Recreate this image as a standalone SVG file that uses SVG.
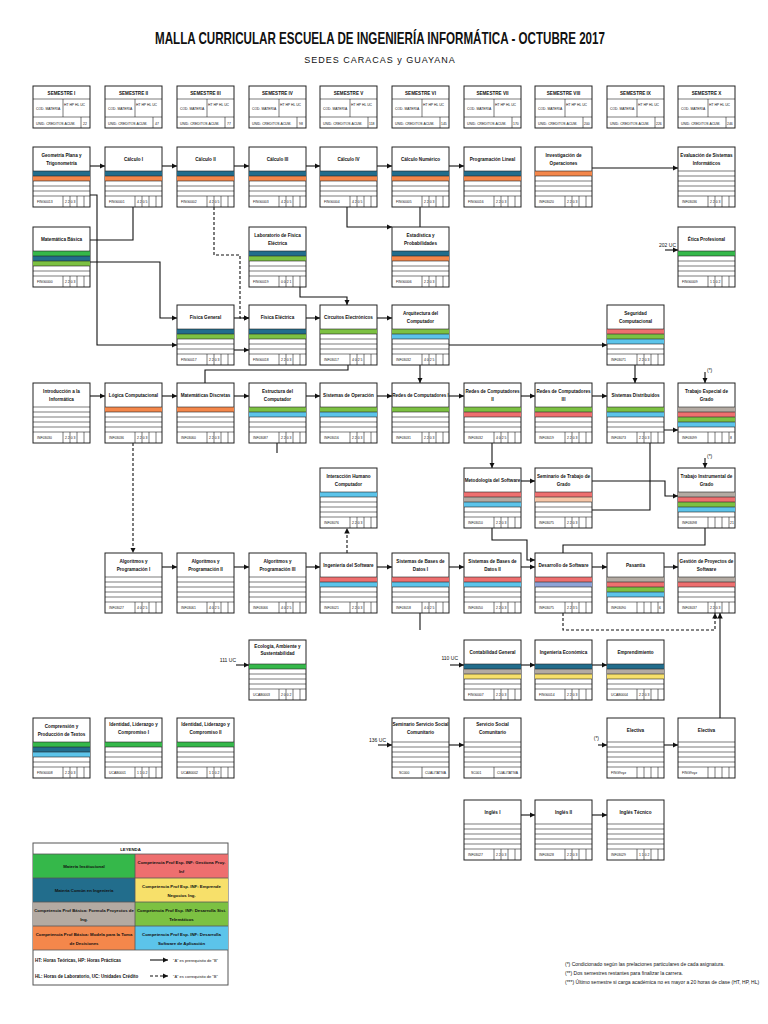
<svg xmlns="http://www.w3.org/2000/svg" width="768" height="1024" viewBox="0 0 768 1024">
<defs>
<style>
text{font-family:"Liberation Sans",Arial,sans-serif;fill:#111}
.b{fill:#fff;stroke:#222;stroke-width:1}
.l{stroke:#222;stroke-width:0.6;fill:none}
.t{font-size:4.6px;font-weight:bold;text-anchor:middle}
.s{font-size:3.4px}
.c{fill:none;stroke:#111;stroke-width:1.1}
.d{fill:none;stroke:#111;stroke-width:1.1;stroke-dasharray:3 2}
.bl{fill:#226d8c}.or{fill:#f4874b}.gr{fill:#7cc142}.ig{fill:#35b84a}.rd{fill:#ee6f6f}.ye{fill:#f7e06a}.gy{fill:#b3aaa2}.lb{fill:#5cc4ea}.wh{fill:#fff}
.lg{font-size:4.3px;font-weight:bold;text-anchor:middle}
</style>
<marker id="a" viewBox="0 0 6 6" refX="6" refY="3" markerWidth="5" markerHeight="5" orient="auto"><path d="M0,0L6,3L0,6z" fill="#111"/></marker>
</defs>
<rect width="768" height="1024" fill="#fff"/>
<text x="380" y="44" font-size="16.5" font-weight="bold" text-anchor="middle" textLength="450" lengthAdjust="spacingAndGlyphs">MALLA CURRICULAR  ESCUELA DE INGENIERÍA INFORMÁTICA - OCTUBRE 2017</text>
<text x="380" y="63" font-size="9" text-anchor="middle" letter-spacing="1">SEDES CARACAS y GUAYANA</text>

<g id="semesters" class="sem">
<g id="sem1" transform="translate(33,86)"><rect class="b" width="57" height="42"/><line class="l" x1="0" y1="13" x2="57" y2="13"/><line class="l" x1="0" y1="31" x2="57" y2="31"/><line class="l" x1="30" y1="13" x2="30" y2="31"/><line class="l" x1="48" y1="31" x2="48" y2="42"/><text class="t" x="28.5" y="9">SEMESTRE I</text><text class="s" x="3" y="24">COD. MATERIA</text><text class="s" x="31" y="20">HT HP HL UC</text><text class="s" x="3" y="38.5">UNID. CREDITOS ACUM.</text><text class="s" x="50" y="38.5">22</text></g>
<g id="sem2" transform="translate(105,86)"><rect class="b" width="57" height="42"/><line class="l" x1="0" y1="13" x2="57" y2="13"/><line class="l" x1="0" y1="31" x2="57" y2="31"/><line class="l" x1="30" y1="13" x2="30" y2="31"/><line class="l" x1="48" y1="31" x2="48" y2="42"/><text class="t" x="28.5" y="9">SEMESTRE II</text><text class="s" x="3" y="24">COD. MATERIA</text><text class="s" x="31" y="20">HT HP HL UC</text><text class="s" x="3" y="38.5">UNID. CREDITOS ACUM.</text><text class="s" x="50" y="38.5">47</text></g>
<g id="sem3" transform="translate(177,86)"><rect class="b" width="57" height="42"/><line class="l" x1="0" y1="13" x2="57" y2="13"/><line class="l" x1="0" y1="31" x2="57" y2="31"/><line class="l" x1="30" y1="13" x2="30" y2="31"/><line class="l" x1="48" y1="31" x2="48" y2="42"/><text class="t" x="28.5" y="9">SEMESTRE III</text><text class="s" x="3" y="24">COD. MATERIA</text><text class="s" x="31" y="20">HT HP HL UC</text><text class="s" x="3" y="38.5">UNID. CREDITOS ACUM.</text><text class="s" x="50" y="38.5">77</text></g>
<g id="sem4" transform="translate(249,86)"><rect class="b" width="57" height="42"/><line class="l" x1="0" y1="13" x2="57" y2="13"/><line class="l" x1="0" y1="31" x2="57" y2="31"/><line class="l" x1="30" y1="13" x2="30" y2="31"/><line class="l" x1="48" y1="31" x2="48" y2="42"/><text class="t" x="28.5" y="9">SEMESTRE IV</text><text class="s" x="3" y="24">COD. MATERIA</text><text class="s" x="31" y="20">HT HP HL UC</text><text class="s" x="3" y="38.5">UNID. CREDITOS ACUM.</text><text class="s" x="50" y="38.5">98</text></g>
<g id="sem5" transform="translate(320,86)"><rect class="b" width="57" height="42"/><line class="l" x1="0" y1="13" x2="57" y2="13"/><line class="l" x1="0" y1="31" x2="57" y2="31"/><line class="l" x1="30" y1="13" x2="30" y2="31"/><line class="l" x1="48" y1="31" x2="48" y2="42"/><text class="t" x="28.5" y="9">SEMESTRE V</text><text class="s" x="3" y="24">COD. MATERIA</text><text class="s" x="31" y="20">HT HP HL UC</text><text class="s" x="3" y="38.5">UNID. CREDITOS ACUM.</text><text class="s" x="49" y="38.5">118</text></g>
<g id="sem6" transform="translate(392,86)"><rect class="b" width="57" height="42"/><line class="l" x1="0" y1="13" x2="57" y2="13"/><line class="l" x1="0" y1="31" x2="57" y2="31"/><line class="l" x1="30" y1="13" x2="30" y2="31"/><line class="l" x1="48" y1="31" x2="48" y2="42"/><text class="t" x="28.5" y="9">SEMESTRE VI</text><text class="s" x="3" y="24">COD. MATERIA</text><text class="s" x="31" y="20">HT HP HL UC</text><text class="s" x="3" y="38.5">UNID. CREDITOS ACUM.</text><text class="s" x="49" y="38.5">145</text></g>
<g id="sem7" transform="translate(464,86)"><rect class="b" width="57" height="42"/><line class="l" x1="0" y1="13" x2="57" y2="13"/><line class="l" x1="0" y1="31" x2="57" y2="31"/><line class="l" x1="30" y1="13" x2="30" y2="31"/><line class="l" x1="48" y1="31" x2="48" y2="42"/><text class="t" x="28.5" y="9">SEMESTRE VII</text><text class="s" x="3" y="24">COD. MATERIA</text><text class="s" x="31" y="20">HT HP HL UC</text><text class="s" x="3" y="38.5">UNID. CREDITOS ACUM.</text><text class="s" x="49" y="38.5">170</text></g>
<g id="sem8" transform="translate(535,86)"><rect class="b" width="57" height="42"/><line class="l" x1="0" y1="13" x2="57" y2="13"/><line class="l" x1="0" y1="31" x2="57" y2="31"/><line class="l" x1="30" y1="13" x2="30" y2="31"/><line class="l" x1="48" y1="31" x2="48" y2="42"/><text class="t" x="28.5" y="9">SEMESTRE VIII</text><text class="s" x="3" y="24">COD. MATERIA</text><text class="s" x="31" y="20">HT HP HL UC</text><text class="s" x="3" y="38.5">UNID. CREDITOS ACUM.</text><text class="s" x="49" y="38.5">200</text></g>
<g id="sem9" transform="translate(607,86)"><rect class="b" width="57" height="42"/><line class="l" x1="0" y1="13" x2="57" y2="13"/><line class="l" x1="0" y1="31" x2="57" y2="31"/><line class="l" x1="30" y1="13" x2="30" y2="31"/><line class="l" x1="48" y1="31" x2="48" y2="42"/><text class="t" x="28.5" y="9">SEMESTRE IX</text><text class="s" x="3" y="24">COD. MATERIA</text><text class="s" x="31" y="20">HT HP HL UC</text><text class="s" x="3" y="38.5">UNID. CREDITOS ACUM.</text><text class="s" x="49" y="38.5">226</text></g>
<g id="sem10" transform="translate(678,86)"><rect class="b" width="57" height="42"/><line class="l" x1="0" y1="13" x2="57" y2="13"/><line class="l" x1="0" y1="31" x2="57" y2="31"/><line class="l" x1="30" y1="13" x2="30" y2="31"/><line class="l" x1="48" y1="31" x2="48" y2="42"/><text class="t" x="28.5" y="9">SEMESTRE X</text><text class="s" x="3" y="24">COD. MATERIA</text><text class="s" x="31" y="20">HT HP HL UC</text><text class="s" x="3" y="38.5">UNID. CREDITOS ACUM.</text><text class="s" x="49" y="38.5">246</text></g>
</g>

<g id="connectors">
<path class="c" d="M90,166H105" marker-end="url(#a)"/>
<path class="c" d="M162,166H177" marker-end="url(#a)"/>
<path class="c" d="M234,166H249" marker-end="url(#a)"/>
<path class="c" d="M306,166H320" marker-end="url(#a)"/>
<path class="c" d="M377,166H392" marker-end="url(#a)"/>
<path class="c" d="M449,166H464" marker-end="url(#a)"/>
<path class="c" d="M592,168H678" marker-end="url(#a)"/>
<path class="c" d="M90,240H133V207"/>
<path class="c" d="M90,195H97V345H177" marker-end="url(#a)"/>
<path class="c" d="M90,262H160V318H177" marker-end="url(#a)"/>
<path class="d" d="M214,207V255H240V318H249" marker-end="url(#a)"/>
<path class="c" d="M234,318H249" marker-end="url(#a)"/>
<path class="c" d="M234,350H249" marker-end="url(#a)"/>
<path class="c" d="M306,318H320" marker-end="url(#a)"/>
<path class="c" d="M300,287V297H347V305" marker-end="url(#a)"/>
<path class="c" d="M377,318H392" marker-end="url(#a)"/>
<path class="c" d="M347,207V227H392" marker-end="url(#a)"/>
<path class="c" d="M420,207V227"/>
<path class="c" d="M420,362V383" marker-end="url(#a)"/>
<path class="c" d="M348,362V370H205V383"/>
<path class="c" d="M449,345H607" marker-end="url(#a)"/>
<path class="c" d="M90,396H105" marker-end="url(#a)"/>
<path class="c" d="M162,396H177" marker-end="url(#a)"/>
<path class="c" d="M234,396H249" marker-end="url(#a)"/>
<path class="c" d="M306,396H320" marker-end="url(#a)"/>
<path class="c" d="M377,396H392" marker-end="url(#a)"/>
<path class="c" d="M449,396H464" marker-end="url(#a)"/>
<path class="c" d="M521,396H535" marker-end="url(#a)"/>
<path class="c" d="M592,396H607" marker-end="url(#a)"/>
<path class="c" d="M635,365V383" marker-end="url(#a)"/>
<path class="c" d="M705,372V383" marker-end="url(#a)"/>
<path class="c" d="M705,458V468" marker-end="url(#a)"/>
<path class="d" d="M133,443V553" marker-end="url(#a)"/>
<path class="d" d="M347,553V528" marker-end="url(#a)"/>
<path class="c" d="M277,443V453"/>
<path class="c" d="M492,443V468" marker-end="url(#a)"/>
<path class="c" d="M521,481H535" marker-end="url(#a)"/>
<path class="c" d="M592,510H650V430H678" marker-end="url(#a)"/>
<path class="c" d="M592,481H665V496H678" marker-end="url(#a)"/>
<path class="c" d="M162,567H177" marker-end="url(#a)"/>
<path class="c" d="M234,567H249" marker-end="url(#a)"/>
<path class="c" d="M306,567H320" marker-end="url(#a)"/>
<path class="c" d="M377,567H392" marker-end="url(#a)"/>
<path class="c" d="M449,567H464" marker-end="url(#a)"/>
<path class="c" d="M521,567H535" marker-end="url(#a)"/>
<path class="c" d="M592,567H607" marker-end="url(#a)"/>
<path class="c" d="M664,567H678" marker-end="url(#a)"/>
<path class="c" d="M563,553V545H705V528"/>
<path class="c" d="M492,528V540H527V560H535" marker-end="url(#a)"/>
<path class="d" d="M563,613V630H715V613" marker-end="url(#a)"/>
<path class="c" d="M720,718V613" marker-end="url(#a)"/>
<path class="c" d="M420,613V630"/>
<path class="c" d="M236,665H249" marker-end="url(#a)"/>
<path class="c" d="M450,665H464" marker-end="url(#a)"/>
<path class="c" d="M521,665H535" marker-end="url(#a)"/>
<path class="c" d="M592,665H607" marker-end="url(#a)"/>
<path class="c" d="M378,745H392" marker-end="url(#a)"/>
<path class="c" d="M449,745H464" marker-end="url(#a)"/>
<path class="c" d="M598,745H607" marker-end="url(#a)"/>
<path class="c" d="M664,745H678" marker-end="url(#a)"/>
<path class="c" d="M521,815H535" marker-end="url(#a)"/>
<path class="c" d="M592,815H607" marker-end="url(#a)"/>
<path class="c" d="M665,250H678" marker-end="url(#a)"/>
</g>
<g id="labels">
<text x="236" y="662" font-size="5" text-anchor="end">111 UC</text>
<text x="458" y="660" font-size="5" text-anchor="end">110 UC</text>
<text x="386" y="742" font-size="5" text-anchor="end">136 UC</text>
<text x="599" y="740" font-size="5" text-anchor="end">(*)</text>
<text x="676" y="247" font-size="5" text-anchor="end">202 UC</text>
<text x="707" y="372" font-size="5">(*)</text>
<text x="707" y="458" font-size="5">(*)</text>
</g>

<g id="nodes">
<g id="n-geom" transform="translate(33,147)"><rect class="b" width="57" height="60"/><text class="t" x="28.5" y="10">Geometría Plana y</text><text class="t" x="28.5" y="18">Trigonometría</text><rect class="bl" y="24" width="57" height="5"/><rect class="or" y="29" width="57" height="5"/><path class="l" d="M0,24H57M0,29H57M0,34H57M0,39H57M0,44H57M0,49H57M30,49V60M37,49V60M44,49V60M51,49V60"/><text class="s" x="4" y="56">FING0013</text><text class="s" x="32" y="56">2  2  0  3</text></g>
<g id="n-c1" transform="translate(105,147)"><rect class="b" width="57" height="60"/><text class="t" x="28.5" y="14">Cálculo I</text><rect class="bl" y="24" width="57" height="5"/><rect class="or" y="29" width="57" height="5"/><path class="l" d="M0,24H57M0,29H57M0,34H57M0,39H57M0,44H57M0,49H57M30,49V60M37,49V60M44,49V60M51,49V60"/><text class="s" x="4" y="56">FING0001</text><text class="s" x="32" y="56">4  2  0  5</text></g>
<g id="n-c2" transform="translate(177,147)"><rect class="b" width="57" height="60"/><text class="t" x="28.5" y="14">Cálculo II</text><rect class="bl" y="24" width="57" height="5"/><rect class="or" y="29" width="57" height="5"/><path class="l" d="M0,24H57M0,29H57M0,34H57M0,39H57M0,44H57M0,49H57M30,49V60M37,49V60M44,49V60M51,49V60"/><text class="s" x="4" y="56">FING0002</text><text class="s" x="32" y="56">4  2  0  5</text></g>
<g id="n-c3" transform="translate(249,147)"><rect class="b" width="57" height="60"/><text class="t" x="28.5" y="14">Cálculo III</text><rect class="bl" y="24" width="57" height="5"/><rect class="or" y="29" width="57" height="5"/><path class="l" d="M0,24H57M0,29H57M0,34H57M0,39H57M0,44H57M0,49H57M30,49V60M37,49V60M44,49V60M51,49V60"/><text class="s" x="4" y="56">FING0003</text><text class="s" x="32" y="56">4  2  0  5</text></g>
<g id="n-c4" transform="translate(320,147)"><rect class="b" width="57" height="60"/><text class="t" x="28.5" y="14">Cálculo IV</text><rect class="bl" y="24" width="57" height="5"/><rect class="or" y="29" width="57" height="5"/><path class="l" d="M0,24H57M0,29H57M0,34H57M0,39H57M0,44H57M0,49H57M30,49V60M37,49V60M44,49V60M51,49V60"/><text class="s" x="4" y="56">FING0004</text><text class="s" x="32" y="56">4  2  0  5</text></g>
<g id="n-cn" transform="translate(392,147)"><rect class="b" width="57" height="60"/><text class="t" x="28.5" y="14">Cálculo Numérico</text><rect class="bl" y="24" width="57" height="5"/><rect class="or" y="29" width="57" height="5"/><path class="l" d="M0,24H57M0,29H57M0,34H57M0,39H57M0,44H57M0,49H57M30,49V60M37,49V60M44,49V60M51,49V60"/><text class="s" x="4" y="56">FING0005</text><text class="s" x="32" y="56">2  2  0  3</text></g>
<g id="n-pl" transform="translate(464,147)"><rect class="b" width="57" height="60"/><text class="t" x="28.5" y="14">Programación Lineal</text><rect class="bl" y="24" width="57" height="5"/><rect class="or" y="29" width="57" height="5"/><path class="l" d="M0,24H57M0,29H57M0,34H57M0,39H57M0,44H57M0,49H57M30,49V60M37,49V60M44,49V60M51,49V60"/><text class="s" x="4" y="56">FING0016</text><text class="s" x="32" y="56">2  2  0  3</text></g>
<g id="n-io" transform="translate(535,147)"><rect class="b" width="57" height="60"/><text class="t" x="28.5" y="10">Investigación de</text><text class="t" x="28.5" y="18">Operaciones</text><rect class="or" y="24" width="57" height="5"/><path class="l" d="M0,24H57M0,29H57M0,34H57M0,39H57M0,44H57M0,49H57M30,49V60M37,49V60M44,49V60M51,49V60"/><text class="s" x="4" y="56">INF03020</text><text class="s" x="32" y="56">2  2  0  3</text></g>
<g id="n-esi" transform="translate(678,147)"><rect class="b" width="57" height="60"/><text class="t" x="28.5" y="10">Evaluación de Sistemas</text><text class="t" x="28.5" y="18">Informáticos</text><path class="l" d="M0,24H57M0,29H57M0,34H57M0,39H57M0,44H57M0,49H57M30,49V60M37,49V60M44,49V60M51,49V60"/><text class="s" x="4" y="56">INF03036</text><text class="s" x="32" y="56">2  2  0  3</text></g>
<g id="n-mb" transform="translate(33,227)"><rect class="b" width="57" height="60"/><text class="t" x="28.5" y="14">Matemática Básica</text><rect class="ig" y="24" width="57" height="5"/><rect class="bl" y="29" width="57" height="5"/><rect class="gr" y="34" width="57" height="5"/><path class="l" d="M0,24H57M0,29H57M0,34H57M0,39H57M0,44H57M0,49H57M30,49V60M37,49V60M44,49V60M51,49V60"/><text class="s" x="4" y="56">FING0000</text><text class="s" x="32" y="56">2  2  0  3</text></g>
<g id="n-lfe" transform="translate(249,227)"><rect class="b" width="57" height="60"/><text class="t" x="28.5" y="10">Laboratorio de Física</text><text class="t" x="28.5" y="18">Eléctrica</text><rect class="bl" y="24" width="57" height="5"/><rect class="gr" y="29" width="57" height="5"/><path class="l" d="M0,24H57M0,29H57M0,34H57M0,39H57M0,44H57M0,49H57M30,49V60M37,49V60M44,49V60M51,49V60"/><text class="s" x="4" y="56">FING0019</text><text class="s" x="32" y="56">0  0  2  1</text></g>
<g id="n-ep" transform="translate(392,227)"><rect class="b" width="57" height="60"/><text class="t" x="28.5" y="10">Estadística y</text><text class="t" x="28.5" y="18">Probabilidades</text><rect class="bl" y="24" width="57" height="5"/><rect class="or" y="29" width="57" height="5"/><path class="l" d="M0,24H57M0,29H57M0,34H57M0,39H57M0,44H57M0,49H57M30,49V60M37,49V60M44,49V60M51,49V60"/><text class="s" x="4" y="56">FING0006</text><text class="s" x="32" y="56">2  2  0  3</text></g>
<g id="n-etica" transform="translate(678,227)"><rect class="b" width="57" height="60"/><text class="t" x="28.5" y="14">Ética Profesional</text><rect class="ig" y="24" width="57" height="5"/><path class="l" d="M0,24H57M0,29H57M0,34H57M0,39H57M0,44H57M0,49H57M30,49V60M37,49V60M44,49V60M51,49V60"/><text class="s" x="4" y="56">FING0009</text><text class="s" x="32" y="56">1  1  0  2</text></g>
<g id="n-fg" transform="translate(177,305)"><rect class="b" width="57" height="60"/><text class="t" x="28.5" y="14">Física General</text><rect class="bl" y="24" width="57" height="5"/><rect class="gr" y="29" width="57" height="5"/><path class="l" d="M0,24H57M0,29H57M0,34H57M0,39H57M0,44H57M0,49H57M30,49V60M37,49V60M44,49V60M51,49V60"/><text class="s" x="4" y="56">FING0017</text><text class="s" x="32" y="56">2  2  0  3</text></g>
<g id="n-fe" transform="translate(249,305)"><rect class="b" width="57" height="60"/><text class="t" x="28.5" y="14">Física Eléctrica</text><rect class="bl" y="24" width="57" height="5"/><rect class="gr" y="29" width="57" height="5"/><path class="l" d="M0,24H57M0,29H57M0,34H57M0,39H57M0,44H57M0,49H57M30,49V60M37,49V60M44,49V60M51,49V60"/><text class="s" x="4" y="56">FING0018</text><text class="s" x="32" y="56">2  2  0  3</text></g>
<g id="n-ce" transform="translate(320,305)"><rect class="b" width="57" height="60"/><text class="t" x="28.5" y="14">Circuitos Electrónicos</text><rect class="gr" y="24" width="57" height="5"/><path class="l" d="M0,24H57M0,29H57M0,34H57M0,39H57M0,44H57M0,49H57M30,49V60M37,49V60M44,49V60M51,49V60"/><text class="s" x="4" y="56">INF03017</text><text class="s" x="32" y="56">4  0  2  5</text></g>
<g id="n-ac" transform="translate(392,305)"><rect class="b" width="57" height="60"/><text class="t" x="28.5" y="10">Arquitectura del</text><text class="t" x="28.5" y="18">Computador</text><rect class="gr" y="24" width="57" height="5"/><rect class="lb" y="29" width="57" height="5"/><path class="l" d="M0,24H57M0,29H57M0,34H57M0,39H57M0,44H57M0,49H57M30,49V60M37,49V60M44,49V60M51,49V60"/><text class="s" x="4" y="56">INF03032</text><text class="s" x="32" y="56">4  0  2  5</text></g>
<g id="n-sc" transform="translate(607,305)"><rect class="b" width="57" height="60"/><text class="t" x="28.5" y="10">Seguridad</text><text class="t" x="28.5" y="18">Computacional</text><rect class="rd" y="24" width="57" height="5"/><rect class="gr" y="29" width="57" height="5"/><rect class="lb" y="34" width="57" height="5"/><path class="l" d="M0,24H57M0,29H57M0,34H57M0,39H57M0,44H57M0,49H57M30,49V60M37,49V60M44,49V60M51,49V60"/><text class="s" x="4" y="56">INF03071</text><text class="s" x="32" y="56">2  2  0  3</text></g>
<g id="n-ii" transform="translate(33,383)"><rect class="b" width="57" height="60"/><text class="t" x="28.5" y="10">Introducción a la</text><text class="t" x="28.5" y="18">Informática</text><path class="l" d="M0,24H57M0,29H57M0,34H57M0,39H57M0,44H57M0,49H57M30,49V60M37,49V60M44,49V60M51,49V60"/><text class="s" x="4" y="56">INF03030</text><text class="s" x="32" y="56">2  2  0  3</text></g>
<g id="n-lc" transform="translate(105,383)"><rect class="b" width="57" height="60"/><text class="t" x="28.5" y="14">Lógica Computacional</text><rect class="or" y="24" width="57" height="5"/><path class="l" d="M0,24H57M0,29H57M0,34H57M0,39H57M0,44H57M0,49H57M30,49V60M37,49V60M44,49V60M51,49V60"/><text class="s" x="4" y="56">INF03036</text><text class="s" x="32" y="56">2  2  0  3</text></g>
<g id="n-md" transform="translate(177,383)"><rect class="b" width="57" height="60"/><text class="t" x="28.5" y="14">Matemáticas Discretas</text><rect class="or" y="24" width="57" height="5"/><path class="l" d="M0,24H57M0,29H57M0,34H57M0,39H57M0,44H57M0,49H57M30,49V60M37,49V60M44,49V60M51,49V60"/><text class="s" x="4" y="56">INF03060</text><text class="s" x="32" y="56">2  2  0  3</text></g>
<g id="n-ec" transform="translate(249,383)"><rect class="b" width="57" height="60"/><text class="t" x="28.5" y="10">Estructura del</text><text class="t" x="28.5" y="18">Computador</text><rect class="gr" y="24" width="57" height="5"/><rect class="lb" y="29" width="57" height="5"/><path class="l" d="M0,24H57M0,29H57M0,34H57M0,39H57M0,44H57M0,49H57M30,49V60M37,49V60M44,49V60M51,49V60"/><text class="s" x="4" y="56">INF03087</text><text class="s" x="32" y="56">2  2  0  3</text></g>
<g id="n-so" transform="translate(320,383)"><rect class="b" width="57" height="60"/><text class="t" x="28.5" y="14">Sistemas de Operación</text><rect class="gr" y="24" width="57" height="5"/><rect class="lb" y="29" width="57" height="5"/><path class="l" d="M0,24H57M0,29H57M0,34H57M0,39H57M0,44H57M0,49H57M30,49V60M37,49V60M44,49V60M51,49V60"/><text class="s" x="4" y="56">INF03016</text><text class="s" x="32" y="56">2  2  0  3</text></g>
<g id="n-r1" transform="translate(392,383)"><rect class="b" width="57" height="60"/><text class="t" x="28.5" y="14">Redes de Computadores I</text><rect class="gr" y="24" width="57" height="5"/><path class="l" d="M0,24H57M0,29H57M0,34H57M0,39H57M0,44H57M0,49H57M30,49V60M37,49V60M44,49V60M51,49V60"/><text class="s" x="4" y="56">INF03031</text><text class="s" x="32" y="56">2  2  0  3</text></g>
<g id="n-r2" transform="translate(464,383)"><rect class="b" width="57" height="60"/><text class="t" x="28.5" y="10">Redes de Computadores</text><text class="t" x="28.5" y="18">II</text><rect class="gr" y="24" width="57" height="5"/><rect class="rd" y="29" width="57" height="5"/><path class="l" d="M0,24H57M0,29H57M0,34H57M0,39H57M0,44H57M0,49H57M30,49V60M37,49V60M44,49V60M51,49V60"/><text class="s" x="4" y="56">INF03032</text><text class="s" x="32" y="56">4  0  2  5</text></g>
<g id="n-r3" transform="translate(535,383)"><rect class="b" width="57" height="60"/><text class="t" x="28.5" y="10">Redes de Computadores</text><text class="t" x="28.5" y="18">III</text><rect class="gr" y="24" width="57" height="5"/><rect class="rd" y="29" width="57" height="5"/><path class="l" d="M0,24H57M0,29H57M0,34H57M0,39H57M0,44H57M0,49H57M30,49V60M37,49V60M44,49V60M51,49V60"/><text class="s" x="4" y="56">INF03019</text><text class="s" x="32" y="56">2  2  0  3</text></g>
<g id="n-sd" transform="translate(607,383)"><rect class="b" width="57" height="60"/><text class="t" x="28.5" y="14">Sistemas Distribuidos</text><rect class="gr" y="24" width="57" height="5"/><rect class="lb" y="29" width="57" height="5"/><path class="l" d="M0,24H57M0,29H57M0,34H57M0,39H57M0,44H57M0,49H57M30,49V60M37,49V60M44,49V60M51,49V60"/><text class="s" x="4" y="56">INF03073</text><text class="s" x="32" y="56">2  2  0  3</text></g>
<g id="n-teg" transform="translate(678,383)"><rect class="b" width="57" height="60"/><text class="t" x="28.5" y="10">Trabajo Especial de</text><text class="t" x="28.5" y="18">Grado</text><rect class="gy" y="24" width="57" height="5"/><rect class="rd" y="29" width="57" height="5"/><rect class="gr" y="34" width="57" height="5"/><rect class="lb" y="39" width="57" height="5"/><path class="l" d="M0,24H57M0,29H57M0,34H57M0,39H57M0,44H57M0,49H57M30,49V60M37,49V60M44,49V60M51,49V60"/><text class="s" x="4" y="56">INF03099</text><text class="s" x="52" y="56">8</text></g>
<g id="n-ihc" transform="translate(320,468)"><rect class="b" width="57" height="60"/><text class="t" x="28.5" y="10">Interacción Humano</text><text class="t" x="28.5" y="18">Computador</text><rect class="lb" y="24" width="57" height="5"/><path class="l" d="M0,24H57M0,29H57M0,34H57M0,39H57M0,44H57M0,49H57M30,49V60M37,49V60M44,49V60M51,49V60"/><text class="s" x="4" y="56">INF03076</text><text class="s" x="32" y="56">2  2  0  3</text></g>
<g id="n-ms" transform="translate(464,468)"><rect class="b" width="57" height="60"/><text class="t" x="28.5" y="14">Metodología del Software</text><rect class="rd" y="24" width="57" height="5"/><rect class="gy" y="29" width="57" height="5"/><rect class="lb" y="34" width="57" height="5"/><path class="l" d="M0,24H57M0,29H57M0,34H57M0,39H57M0,44H57M0,49H57M30,49V60M37,49V60M44,49V60M51,49V60"/><text class="s" x="4" y="56">INF03010</text><text class="s" x="32" y="56">2  2  0  3</text></g>
<g id="n-stg" transform="translate(535,468)"><rect class="b" width="57" height="60"/><text class="t" x="28.5" y="10">Seminario de Trabajo de</text><text class="t" x="28.5" y="18">Grado</text><rect class="rd" y="24" width="57" height="5"/><rect fill="#f6c6a8" y="29" width="57" height="5"/><path class="l" d="M0,24H57M0,29H57M0,34H57M0,39H57M0,44H57M0,49H57M30,49V60M37,49V60M44,49V60M51,49V60"/><text class="s" x="4" y="56">INF03075</text><text class="s" x="32" y="56">2  2  0  3</text></g>
<g id="n-tig" transform="translate(678,468)"><rect class="b" width="57" height="60"/><text class="t" x="28.5" y="10">Trabajo Instrumental de</text><text class="t" x="28.5" y="18">Grado</text><rect class="gy" y="24" width="57" height="5"/><rect class="rd" y="29" width="57" height="5"/><rect class="gr" y="34" width="57" height="5"/><rect class="lb" y="39" width="57" height="5"/><path class="l" d="M0,24H57M0,29H57M0,34H57M0,39H57M0,44H57M0,49H57M30,49V60M37,49V60M44,49V60M51,49V60"/><text class="s" x="4" y="56">INF03098</text><text class="s" x="52" y="56">21</text></g>
<g id="n-ap1" transform="translate(105,553)"><rect class="b" width="57" height="60"/><text class="t" x="28.5" y="10">Algoritmos y</text><text class="t" x="28.5" y="18">Programación I</text><path class="l" d="M0,24H57M0,29H57M0,34H57M0,39H57M0,44H57M0,49H57M30,49V60M37,49V60M44,49V60M51,49V60"/><text class="s" x="4" y="56">INF03027</text><text class="s" x="32" y="56">4  0  2  5</text></g>
<g id="n-ap2" transform="translate(177,553)"><rect class="b" width="57" height="60"/><text class="t" x="28.5" y="10">Algoritmos y</text><text class="t" x="28.5" y="18">Programación II</text><path class="l" d="M0,24H57M0,29H57M0,34H57M0,39H57M0,44H57M0,49H57M30,49V60M37,49V60M44,49V60M51,49V60"/><text class="s" x="4" y="56">INF03061</text><text class="s" x="32" y="56">4  0  2  5</text></g>
<g id="n-ap3" transform="translate(249,553)"><rect class="b" width="57" height="60"/><text class="t" x="28.5" y="10">Algoritmos y</text><text class="t" x="28.5" y="18">Programación III</text><path class="l" d="M0,24H57M0,29H57M0,34H57M0,39H57M0,44H57M0,49H57M30,49V60M37,49V60M44,49V60M51,49V60"/><text class="s" x="4" y="56">INF03066</text><text class="s" x="32" y="56">4  0  2  5</text></g>
<g id="n-is" transform="translate(320,553)"><rect class="b" width="57" height="60"/><text class="t" x="28.5" y="14">Ingeniería del Software</text><rect class="rd" y="24" width="57" height="5"/><rect class="lb" y="29" width="57" height="5"/><path class="l" d="M0,24H57M0,29H57M0,34H57M0,39H57M0,44H57M0,49H57M30,49V60M37,49V60M44,49V60M51,49V60"/><text class="s" x="4" y="56">INF03021</text><text class="s" x="32" y="56">2  2  0  3</text></g>
<g id="n-bd1" transform="translate(392,553)"><rect class="b" width="57" height="60"/><text class="t" x="28.5" y="10">Sistemas de Bases de</text><text class="t" x="28.5" y="18">Datos I</text><rect class="rd" y="24" width="57" height="5"/><rect class="lb" y="29" width="57" height="5"/><path class="l" d="M0,24H57M0,29H57M0,34H57M0,39H57M0,44H57M0,49H57M30,49V60M37,49V60M44,49V60M51,49V60"/><text class="s" x="4" y="56">INF03018</text><text class="s" x="32" y="56">4  0  2  5</text></g>
<g id="n-bd2" transform="translate(464,553)"><rect class="b" width="57" height="60"/><text class="t" x="28.5" y="10">Sistemas de Bases de</text><text class="t" x="28.5" y="18">Datos II</text><rect class="rd" y="24" width="57" height="5"/><rect class="lb" y="29" width="57" height="5"/><path class="l" d="M0,24H57M0,29H57M0,34H57M0,39H57M0,44H57M0,49H57M30,49V60M37,49V60M44,49V60M51,49V60"/><text class="s" x="4" y="56">INF03050</text><text class="s" x="32" y="56">2  2  0  3</text></g>
<g id="n-ds" transform="translate(535,553)"><rect class="b" width="57" height="60"/><text class="t" x="28.5" y="14">Desarrollo de Software</text><rect class="rd" y="24" width="57" height="5"/><rect fill="#8ea3d6" y="29" width="57" height="5"/><path class="l" d="M0,24H57M0,29H57M0,34H57M0,39H57M0,44H57M0,49H57M30,49V60M37,49V60M44,49V60M51,49V60"/><text class="s" x="4" y="56">INF03075</text><text class="s" x="32" y="56">2  2  3  5</text></g>
<g id="n-pas" transform="translate(607,553)"><rect class="b" width="57" height="60"/><text class="t" x="28.5" y="14">Pasantía</text><rect class="gy" y="24" width="57" height="5"/><rect class="rd" y="29" width="57" height="5"/><rect class="gr" y="34" width="57" height="5"/><rect class="lb" y="39" width="57" height="5"/><path class="l" d="M0,24H57M0,29H57M0,34H57M0,39H57M0,44H57M0,49H57M30,49V60M37,49V60M44,49V60M51,49V60"/><text class="s" x="4" y="56">INF03090</text><text class="s" x="52" y="56">6</text></g>
<g id="n-gps" transform="translate(678,553)"><rect class="b" width="57" height="60"/><text class="t" x="28.5" y="10">Gestión de Proyectos de</text><text class="t" x="28.5" y="18">Software</text><rect class="gy" y="24" width="57" height="5"/><rect class="rd" y="29" width="57" height="5"/><path class="l" d="M0,24H57M0,29H57M0,34H57M0,39H57M0,44H57M0,49H57M30,49V60M37,49V60M44,49V60M51,49V60"/><text class="s" x="4" y="56">INF03037</text><text class="s" x="32" y="56">2  2  0  3</text></g>
<g id="n-eco" transform="translate(249,640)"><rect class="b" width="57" height="60"/><text class="t" x="28.5" y="8">Ecología, Ambiente y</text><text class="t" x="28.5" y="15">Sustentabilidad</text><rect class="ig" y="24" width="57" height="5"/><path class="l" d="M0,24H57M0,29H57M0,34H57M0,39H57M0,44H57M0,49H57M30,49V60M37,49V60M44,49V60M51,49V60"/><text class="s" x="4" y="56">UCAB0003</text><text class="s" x="32" y="56">2  0  0  2</text></g>
<g id="n-cg" transform="translate(464,640)"><rect class="b" width="57" height="60"/><text class="t" x="28.5" y="14">Contabilidad General</text><rect class="bl" y="24" width="57" height="5"/><rect class="gy" y="29" width="57" height="5"/><rect class="ye" y="34" width="57" height="5"/><path class="l" d="M0,24H57M0,29H57M0,34H57M0,39H57M0,44H57M0,49H57M30,49V60M37,49V60M44,49V60M51,49V60"/><text class="s" x="4" y="56">FING0007</text><text class="s" x="32" y="56">2  2  0  3</text></g>
<g id="n-ie" transform="translate(535,640)"><rect class="b" width="57" height="60"/><text class="t" x="28.5" y="14">Ingeniería Económica</text><rect class="bl" y="24" width="57" height="5"/><rect class="gy" y="29" width="57" height="5"/><rect class="ye" y="34" width="57" height="5"/><path class="l" d="M0,24H57M0,29H57M0,34H57M0,39H57M0,44H57M0,49H57M30,49V60M37,49V60M44,49V60M51,49V60"/><text class="s" x="4" y="56">FING0014</text><text class="s" x="32" y="56">2  2  0  3</text></g>
<g id="n-emp" transform="translate(607,640)"><rect class="b" width="57" height="60"/><text class="t" x="28.5" y="14">Emprendimiento</text><rect class="bl" y="24" width="57" height="5"/><rect class="gy" y="29" width="57" height="5"/><rect class="ye" y="34" width="57" height="5"/><path class="l" d="M0,24H57M0,29H57M0,34H57M0,39H57M0,44H57M0,49H57M30,49V60M37,49V60M44,49V60M51,49V60"/><text class="s" x="4" y="56">UCAB0004</text><text class="s" x="32" y="56">2  2  0  3</text></g>
<g id="n-cpt" transform="translate(33,718)"><rect class="b" width="57" height="60"/><text class="t" x="28.5" y="10">Comprensión y</text><text class="t" x="28.5" y="18">Producción de Textos</text><rect class="ig" y="24" width="57" height="5"/><rect class="bl" y="29" width="57" height="5"/><rect class="lb" y="34" width="57" height="5"/><path class="l" d="M0,24H57M0,29H57M0,34H57M0,39H57M0,44H57M0,49H57M30,49V60M37,49V60M44,49V60M51,49V60"/><text class="s" x="4" y="56">FING0008</text><text class="s" x="32" y="56">2  2  0  3</text></g>
<g id="n-ilc1" transform="translate(105,718)"><rect class="b" width="57" height="60"/><text class="t" x="28.5" y="8">Identidad, Liderazgo y</text><text class="t" x="28.5" y="16">Compromiso I</text><rect class="ig" y="24" width="57" height="5"/><path class="l" d="M0,24H57M0,29H57M0,34H57M0,39H57M0,44H57M0,49H57M30,49V60M37,49V60M44,49V60M51,49V60"/><text class="s" x="4" y="56">UCAB0001</text><text class="s" x="32" y="56">1  1  0  2</text></g>
<g id="n-ilc2" transform="translate(177,718)"><rect class="b" width="57" height="60"/><text class="t" x="28.5" y="8">Identidad, Liderazgo y</text><text class="t" x="28.5" y="16">Compromiso II</text><rect class="ig" y="24" width="57" height="5"/><path class="l" d="M0,24H57M0,29H57M0,34H57M0,39H57M0,44H57M0,49H57M30,49V60M37,49V60M44,49V60M51,49V60"/><text class="s" x="4" y="56">UCAB0002</text><text class="s" x="32" y="56">1  1  0  2</text></g>
<g id="n-sssc" transform="translate(392,718)"><rect class="b" width="57" height="60"/><text class="t" x="28.5" y="8">Seminario Servicio Social</text><text class="t" x="28.5" y="16">Comunitario</text><path class="l" d="M0,24H57M0,29H57M0,34H57M0,39H57M0,44H57M0,49H57M30,49V60"/><text class="s" x="7" y="56">SC000</text><text class="s" x="33" y="56">CUALITATIVA</text></g>
<g id="n-ssc" transform="translate(464,718)"><rect class="b" width="57" height="60"/><text class="t" x="28.5" y="8">Servicio Social</text><text class="t" x="28.5" y="16">Comunitario</text><path class="l" d="M0,24H57M0,29H57M0,34H57M0,39H57M0,44H57M0,49H57M30,49V60"/><text class="s" x="7" y="56">SC001</text><text class="s" x="33" y="56">CUALITATIVA</text></g>
<g id="n-el1" transform="translate(607,718)"><rect class="b" width="57" height="60"/><text class="t" x="28.5" y="14">Electiva</text><path class="l" d="M0,24H57M0,29H57M0,34H57M0,39H57M0,44H57M0,49H57M30,49V60M37,49V60M44,49V60M51,49V60"/><text class="s" x="4" y="56">FING9xyz</text></g>
<g id="n-el2" transform="translate(678,718)"><rect class="b" width="57" height="60"/><text class="t" x="28.5" y="14">Electiva</text><path class="l" d="M0,24H57M0,29H57M0,34H57M0,39H57M0,44H57M0,49H57M30,49V60M37,49V60M44,49V60M51,49V60"/><text class="s" x="4" y="56">FING9xyz</text></g>
<g id="n-in1" transform="translate(464,800)"><rect class="b" width="57" height="60"/><text class="t" x="28.5" y="14">Inglés I</text><path class="l" d="M0,24H57M0,29H57M0,34H57M0,39H57M0,44H57M0,49H57M30,49V60M37,49V60M44,49V60M51,49V60"/><text class="s" x="4" y="56">INF03027</text><text class="s" x="32" y="56">2  2  0  3</text></g>
<g id="n-in2" transform="translate(535,800)"><rect class="b" width="57" height="60"/><text class="t" x="28.5" y="14">Inglés II</text><path class="l" d="M0,24H57M0,29H57M0,34H57M0,39H57M0,44H57M0,49H57M30,49V60M37,49V60M44,49V60M51,49V60"/><text class="s" x="4" y="56">INF03028</text><text class="s" x="32" y="56">2  2  0  3</text></g>
<g id="n-int" transform="translate(607,800)"><rect class="b" width="57" height="60"/><text class="t" x="28.5" y="14">Inglés Técnico</text><path class="l" d="M0,24H57M0,29H57M0,34H57M0,39H57M0,44H57M0,49H57M30,49V60M37,49V60M44,49V60M51,49V60"/><text class="s" x="4" y="56">INF03029</text><text class="s" x="32" y="56">1  1  0  2</text></g>
</g>

<g id="legend">
<rect x="33" y="843" width="195" height="142" fill="#fff" stroke="#555"/>
<text x="130.5" y="851" class="lg">LEYENDA</text>
<rect x="33" y="854" width="102" height="24" class="ig"/><rect x="135" y="854" width="93" height="24" class="rd"/>
<rect x="33" y="878" width="102" height="24" class="bl"/><rect x="135" y="878" width="93" height="24" class="ye"/>
<rect x="33" y="902" width="102" height="24" class="gy"/><rect x="135" y="902" width="93" height="24" class="gr"/>
<rect x="33" y="926" width="102" height="24" class="or"/><rect x="135" y="926" width="93" height="24" class="lb"/>
<path d="M33,854H228M33,878H228M33,902H228M33,926H228M33,950H228M135,854V950" stroke="#555" stroke-width="0.8"/>
<text class="lg" x="84" y="868">Materia Institucional</text>
<text class="lg" x="181.5" y="864">Competencia Prof Esp. INF: Gestiona Proy.</text><text class="lg" x="181.5" y="873">Inf</text>
<text class="lg" x="84" y="892">Materia Común en Ingeniería</text>
<text class="lg" x="181.5" y="888">Competencia Prof Esp. INF: Emprende</text><text class="lg" x="181.5" y="897">Negocios Ing.</text>
<text class="lg" x="84" y="912">Competencia Prof Básica: Formula Proyectos de</text><text class="lg" x="84" y="921">Ing.</text>
<text class="lg" x="181.5" y="912">Competencia Prof Esp. INF: Desarrolla Sist.</text><text class="lg" x="181.5" y="921">Telemáticos</text>
<text class="lg" x="84" y="936">Competencia Prof Básica: Modela para la Toma</text><text class="lg" x="84" y="945">de Decisiones</text>
<text class="lg" x="181.5" y="936">Competencia Prof Esp. INF: Desarrolla</text><text class="lg" x="181.5" y="945">Software de Aplicación</text>
<text x="35" y="962" font-size="4.5" font-weight="bold">HT: Horas Teóricas, HP: Horas Prácticas</text>
<text x="35" y="978" font-size="4.5" font-weight="bold">HL: Horas de Laboratorio, UC: Unidades Crédito</text>
<path class="c" d="M150,960H168" marker-end="url(#a)"/>
<path class="d" d="M150,976H168" marker-end="url(#a)"/>
<text x="173" y="962" font-size="4">"A" es prerequisito de "B"</text>
<text x="173" y="978" font-size="4">"A" es correquisito de "B"</text>
</g>
<g id="notes">
<text x="565" y="966" font-size="5">(*)  Condicionado según las prelaciones particulares de cada asignatura.</text>
<text x="565" y="975" font-size="5">(**)  Dos semestres restantes para finalizar la carrera.</text>
<text x="565" y="984" font-size="5">(***)  Último semestre si carga académica no es mayor a 20 horas de clase (HT, HP, HL)</text>
</g>
</svg>
